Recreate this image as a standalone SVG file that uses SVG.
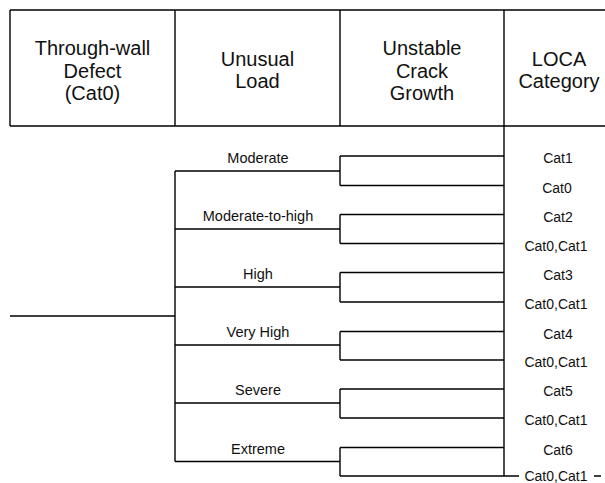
<svg xmlns="http://www.w3.org/2000/svg" width="605" height="483" viewBox="0 0 605 483">
<style>
.ln{stroke:#000;stroke-width:1.4;fill:none}
.hd{font-family:"Liberation Sans",Arial,sans-serif;font-size:20px;fill:#111;text-anchor:middle}
.lb{font-family:"Liberation Sans",Arial,sans-serif;font-size:14.5px;fill:#111;text-anchor:middle}
.ct{font-family:"Liberation Sans",Arial,sans-serif;font-size:14px;fill:#111;text-anchor:middle}
</style>
<rect width="605" height="483" fill="#fff"/>
<g id="header">
<path class="ln" d="M10,10H605M10,126H605M10,10V126M175,10V126M340,10V126M504,10V126"/>
</g>
<g id="h-defect"><text class="hd" x="92.5" y="55">Through-wall</text><text class="hd" x="92.5" y="77.5">Defect</text><text class="hd" x="92.5" y="100">(Cat0)</text></g>
<g id="h-load"><text class="hd" x="257.5" y="65.5">Unusual</text><text class="hd" x="257.5" y="88">Load</text></g>
<g id="h-crack"><text class="hd" x="422" y="55">Unstable</text><text class="hd" x="422" y="77.5">Crack</text><text class="hd" x="422" y="100">Growth</text></g>
<g id="h-loca"><text class="hd" x="559" y="65.5">LOCA</text><text class="hd" x="559" y="88">Category</text></g>
<g id="connectors">
<path class="ln" d="M10,316H175M175,171V461.5M504,126V476"/>
<path class="ln" d="M175,171H340M340,156V185.5M340,156H504M340,185.5H504"/>
<path class="ln" d="M175,229H340M340,214.5V243.5M340,214.5H504M340,243.5H504"/>
<path class="ln" d="M175,287H340M340,272.5V302M340,272.5H504M340,302H504"/>
<path class="ln" d="M175,345H340M340,331.5V360M340,331.5H504M340,360H504"/>
<path class="ln" d="M175,403H340M340,389V418M340,389H504M340,418H504"/>
<path class="ln" d="M175,461.5H340M340,447.5V476M340,447.5H504M340,476H519M594,476H601"/>
</g>
<g id="load-labels">
<text class="lb" x="258" y="163">Moderate</text>
<text class="lb" x="258" y="221">Moderate-to-high</text>
<text class="lb" x="258" y="279">High</text>
<text class="lb" x="258" y="337">Very High</text>
<text class="lb" x="258" y="395">Severe</text>
<text class="lb" x="258" y="453.5">Extreme</text>
</g>
<g id="cat-labels">
<text class="ct" x="558" y="163">Cat1</text>
<text class="ct" x="557" y="192.5">Cat0</text>
<text class="ct" x="558" y="221.5">Cat2</text>
<text class="ct" x="556" y="250.5">Cat0,Cat1</text>
<text class="ct" x="558" y="279.5">Cat3</text>
<text class="ct" x="556" y="309">Cat0,Cat1</text>
<text class="ct" x="558" y="338.5">Cat4</text>
<text class="ct" x="556" y="367">Cat0,Cat1</text>
<text class="ct" x="558" y="396">Cat5</text>
<text class="ct" x="556" y="425">Cat0,Cat1</text>
<text class="ct" x="558" y="454.5">Cat6</text>
<text class="ct" x="556" y="480.5">Cat0,Cat1</text>
</g>
</svg>
